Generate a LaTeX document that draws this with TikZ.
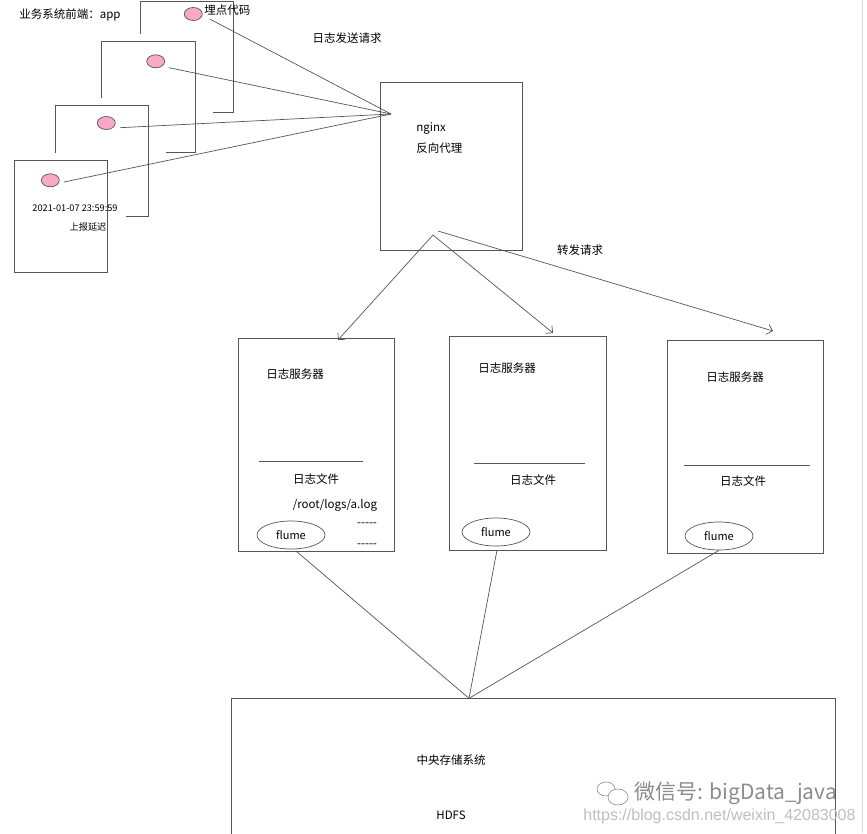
\documentclass[tikz,border=0pt]{standalone}
\usepackage{fontspec}
\setmainfont{Noto Sans CJK SC}
\newfontfamily\wmfont{Liberation Sans}
\usetikzlibrary{arrows.meta,shapes.geometric}
\definecolor{pk}{HTML}{F9A8C8}
\definecolor{ln}{HTML}{555555}
\begin{document}
\begin{tikzpicture}[x=1pt,y=-1pt,line width=0.7pt,
  edge/.style={draw=ln},
  pagebox/.style={draw=ln,rectangle,anchor=north west,inner sep=0pt},
  dot/.style={ellipse,draw=ln,fill=pk,minimum width=18pt,minimum height=13pt,inner sep=0pt},
  fl/.style={ellipse,draw=ln,minimum width=68pt,minimum height=28pt,inner sep=0pt,font=\fontsize{11}{13}\selectfont},
  txt/.style={inner sep=0pt,font=\fontsize{11.5}{14}\selectfont},
  small/.style={inner sep=0pt,font=\fontsize{9.2}{11}\selectfont},
  arr/.style={edge,-{Straight Barb[length=5pt,width=10pt]}}]
\clip (0,0) rectangle (867,833);
\fill[white] (0,0) rectangle (867,833);
% faint right border
\draw[black!15,line width=1pt] (862,0) -- (862,833);
% stacked pages (back ones partially hidden)
\draw[edge] (140.7,34) -- (140.7,1) -- (233.3,1) -- (233.3,112.7) -- (212.7,112.7);
\draw[edge] (101.7,98.3) -- (101.7,41.3) -- (195,41.3) -- (195,152.3) -- (166,152.3);
\draw[edge] (55.3,153.3) -- (55.3,105.3) -- (148.3,105.3) -- (148.3,216) -- (125.7,216);
\node[pagebox,minimum width=93pt,minimum height=111.4pt] (p4) at (14.3,160.3) {};
% pink tracking dots
\node[dot] (d1) at (193.3,14) {};
\node[dot] (d2) at (155.7,61.3) {};
\node[dot] (d3) at (106.3,123) {};
\node[dot] (d4) at (50.3,180.3) {};
% texts near pages
\node[txt,anchor=west] (app) at (19,15) {业务系统前端：app};
\node[txt,anchor=west] (mdl) at (204,10) {埋点代码};
\node[small] (ts) at (75,208) {2021-01-07 23:59:59};
\node[small] (delay) at (88,227) {上报延迟};
% nginx
\node[pagebox,minimum width=142pt,minimum height=168.5pt] (ngx) at (379.5,81.7) {};
\node[txt,anchor=west] (ngxt) at (416,128) {nginx};
\node[txt,anchor=west] (ngxt2) at (416,148) {反向代理};
\node[txt] (send) at (347,38) {日志发送请求};
\coordinate (hub) at (391,114);
\draw[edge] ([shift={(7,5)}]d1.east) -- (hub);
\draw[edge] ([shift={(4,6.4)}]d2.east) -- (hub);
\draw[edge] ([shift={(4.4,4.7)}]d3.east) -- (hub);
\draw[edge] ([shift={(4.4,1.7)}]d4.east) -- (hub);
% forwarding
\node[txt] (fwd) at (580,250) {转发请求};
\coordinate (fa) at (433,235);
\coordinate (fb) at (438,231);
% log servers
\node[pagebox,minimum width=155.7pt,minimum height=212.7pt] (s1) at (238.3,338.3) {};
\node[pagebox,minimum width=156.7pt,minimum height=214pt] (s2) at (449.3,336) {};
\node[pagebox,minimum width=155.4pt,minimum height=213pt] (s3) at (667.3,340.3) {};
\coordinate (a1) at (338,340);
\coordinate (a2) at (553,333);
\coordinate (a3) at (773,331);
\draw[arr] (fa) -- (a1);
\draw[arr] (fa) -- (a2);
\draw[arr] (fb) -- (a3);
% server 1
\node[txt] (s1a) at (295,374) {日志服务器};
\draw[edge] (259,461) -- (363,461);
\node[txt] (s1b) at (316,479) {日志文件};
\node[txt] (s1c) at (335,505) {/root/logs/a.log};
\node[txt] (s1d) at (367,525) {-{}-{}-{}-{}-};
\node[txt] (s1e) at (367,546) {-{}-{}-{}-{}-};
\node[fl] (f1) at (291,535) {flume};
% server 2
\node[txt] (s2a) at (507,368) {日志服务器};
\draw[edge] (474,463) -- (585,463);
\node[txt] (s2b) at (533,480) {日志文件};
\node[fl] (f2) at (496,532) {flume};
% server 3
\node[txt] (s3a) at (735,377) {日志服务器};
\draw[edge] (684,465) -- (810,465);
\node[txt] (s3b) at (743,481) {日志文件};
\node[fl] (f3) at (719,536) {flume};
% HDFS
\node[pagebox,minimum width=604pt,minimum height=150pt] (hdfs) at (231,698.3) {};
\coordinate (hub2) at (469,698.3);
\draw[edge] (296,551) -- (hub2);
\draw[edge] (497,550) -- (hub2);
\draw[edge] (f3.south) -- (hub2);
\node[txt] (h1) at (451,760) {中央存储系统};
\node[txt] (h2) at (451,815) {HDFS};
% watermark
\begin{scope}[black!45,line width=0.6pt]
\draw (606,789) ellipse (9pt and 7pt);
\draw[fill=white] (618,797) ellipse (10pt and 8pt);
\end{scope}
\node[inner sep=0pt,anchor=west,text=black!45,font=\fontsize{21}{24}\selectfont] (wm1) at (634,793) {微信号: bigData\_java};
\node[inner sep=0pt,anchor=west,text=black!25,font=\wmfont\fontsize{16}{18}\selectfont] (wm2) at (583,816) {https://blog.csdn.net/weixin\_42083008};
\end{tikzpicture}
\end{document}
